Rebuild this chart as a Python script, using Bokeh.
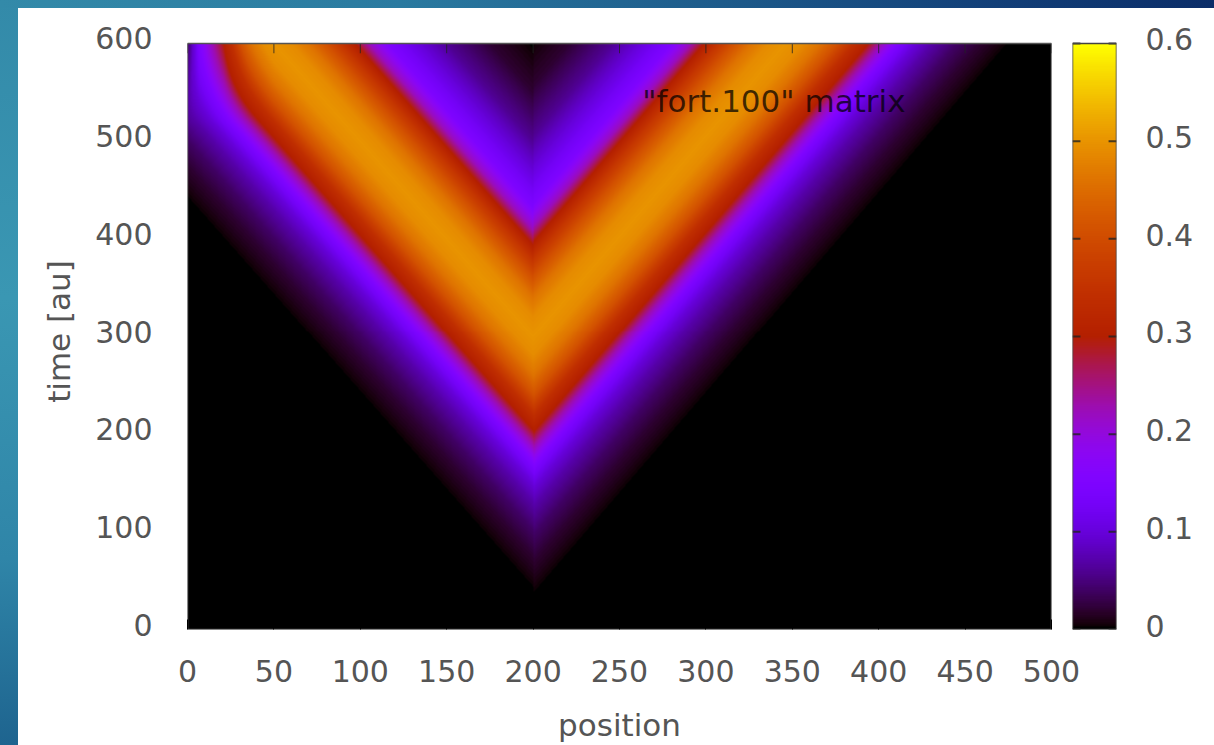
import numpy as np
from bokeh.plotting import figure
from bokeh.layouts import row
from bokeh.models import LinearColorMapper, LinearAxis, Range1d, FixedTicker
from bokeh.core.properties import value
from bokeh.embed import file_html
from bokeh.resources import INLINE

# Axis ticks
x_ticks = [0, 50, 100, 150, 200, 250, 300, 350, 400, 450, 500]
y_ticks = [0, 100, 200, 300, 400, 500, 600]
cb_ticks = [0, 0.1, 0.2, 0.3, 0.4, 0.5, 0.6]

# Pulse: value against horizontal distance from the crest
front_dist = [0, 10, 20, 30, 40, 48, 55, 65, 75, 85, 99, 112, 130]
front_val = [0.50, 0.49, 0.46, 0.41, 0.34, 0.30, 0.23, 0.15, 0.10, 0.07, 0.04, 0.02, 0.0]
back_dist = [0, 10, 20, 30, 40, 47, 55, 66, 80, 100, 125, 150]
back_val = [0.50, 0.49, 0.46, 0.41, 0.35, 0.30, 0.22, 0.15, 0.11, 0.06, 0.02, 0.0]
# How far the left front is held back by the wall at position 0, read at time 600
wall_x = [0, 3, 7, 14, 21, 35, 50]
wall_shift = [50, 32, 22, 20, 19, 8, 0]
source_x = 200      # where the two crests split
crest_t = 300       # time of the highest point
left_speed = 0.5    # position per time
right_speed = 0.487

FONT = "DejaVu Sans"
TEXT = "#555555"

nx, ny = 864, 587
xs = (np.arange(nx) + 0.5) * 500 / nx
ts = (np.arange(ny) + 0.5) * 600 / ny
X, T = np.meshgrid(xs, ts)
ramp = np.clip((T - 520) / 80, 0, 1) ** 1.5
Xe = np.where(X < source_x, X - np.interp(X, wall_x, wall_shift) * ramp, X)
speed = np.where(X < source_x, left_speed, right_speed)
d = np.abs(Xe - source_x) - speed * (T - crest_t)
field = np.where(d >= 0, np.interp(d, front_dist, front_val), np.interp(-d, back_dist, back_val))

def cube(x):
    r = np.sqrt(x)
    g = x ** 3
    b = np.clip(np.sin(2 * np.pi * x), 0, 1)
    return "#%02x%02x%02x" % (int(r * 255), int(g * 255), int(b * 255))

palette = [cube(i / 255) for i in range(256)]
mapper = LinearColorMapper(palette=palette, low=0, high=0.6)

# The frames reach 10px above the drawn area, so that the raised tick labels stay in range.
HEAD = 10
SPARE = 5
ppy = 600 / 587          # data units per pixel, main plot
cpy = 0.6 / 587          # data units per pixel, colour scale

# main plot: drawn area 187..1051 x 43..630 on the page
p = figure(width=1090, height=745, output_backend="svg", toolbar_location=None,
           x_range=Range1d(0, 500), y_range=Range1d(0, 600 + HEAD * ppy),
           x_axis_location=None, y_axis_location=None,
           min_border_left=187, min_border_right=39, min_border_top=43 - HEAD, min_border_bottom=115,
           border_fill_color=None, background_fill_color=None, outline_line_color=None)
p.grid.visible = False
p.image(image=[field], x=0, y=0, dw=500, dh=600, color_mapper=mapper)
p.segment(x0=x_ticks, x1=x_ticks, y0=[600] * len(x_ticks), y1=[590] * len(x_ticks),
          line_color="#222222", line_alpha=0.8, line_width=1)
p.line(x=[0, 500, 500, 0, 0], y=[0, 0, 600, 600, 0], line_color="#555555", line_width=1.5)
p.text(x=[415.5], y=[541], text=['"fort.100" matrix'], text_font=value(FONT), text_font_size="31px",
       text_align="right", text_baseline="middle", text_color="black", text_alpha=0.72)

p.extra_y_ranges = {"lab": Range1d(-SPARE * ppy, 600 + (HEAD - SPARE) * ppy)}

below = LinearAxis(ticker=FixedTicker(ticks=x_ticks), axis_label="position", axis_label_standoff=22,
                   major_tick_in=10, major_tick_out=0, minor_tick_in=0, minor_tick_out=0,
                   major_tick_line_color="black", axis_line_color=None, major_label_standoff=30,
                   major_label_text_font=FONT, major_label_text_font_size="30px", major_label_text_color=TEXT,
                   axis_label_text_font=FONT, axis_label_text_font_size="31px", axis_label_text_color=TEXT,
                   axis_label_text_font_style="normal")
p.add_layout(below, "below")
left = LinearAxis(y_range_name="lab", ticker=FixedTicker(ticks=y_ticks), axis_label="time [au]", axis_label_standoff=15,
                  major_tick_in=0, major_tick_out=0, minor_tick_in=0, minor_tick_out=0,
                  axis_line_color=None, major_label_standoff=35,
                  major_label_text_font=FONT, major_label_text_font_size="30px", major_label_text_color=TEXT,
                  axis_label_text_font=FONT, axis_label_text_font_size="31px", axis_label_text_color=TEXT,
                  axis_label_text_font_style="normal")
p.add_layout(left, "left")

# colour scale: drawn area 1072..1116 on the page
cb_values = np.linspace(0, 0.6, 587).reshape(-1, 1)
c = figure(width=154, height=745, output_backend="svg", toolbar_location=None,
           x_range=Range1d(0, 1), y_range=Range1d(0, 0.6 + HEAD * cpy),
           x_axis_location=None, y_axis_location=None,
           min_border_left=12, min_border_right=98, min_border_top=43 - HEAD, min_border_bottom=115,
           border_fill_color=None, background_fill_color=None, outline_line_color=None, margin=(0, 0, 0, -30))
c.grid.visible = False
c.image(image=[cb_values], x=0, y=0, dw=1, dh=0.6, color_mapper=mapper)
n = len(cb_ticks)
c.segment(x0=[0] * n, x1=[0.18] * n, y0=cb_ticks, y1=cb_ticks, line_color="#222222", line_alpha=0.8, line_width=2)
c.segment(x0=[0.82] * n, x1=[1] * n, y0=cb_ticks, y1=cb_ticks, line_color="#222222", line_alpha=0.8, line_width=2)
c.line(x=[0, 1, 1, 0, 0], y=[0, 0, 0.6, 0.6, 0], line_color="#444444", line_width=1.5)
c.extra_y_ranges = {"lab": Range1d(-4 * cpy, 0.6 + (HEAD - 4) * cpy)}
c.add_layout(LinearAxis(y_range_name="lab", ticker=FixedTicker(ticks=cb_ticks), major_tick_in=0, major_tick_out=0,
                        minor_tick_in=0, minor_tick_out=0, axis_line_color=None, major_label_standoff=29,
                        major_label_text_font=FONT, major_label_text_font_size="30px",
                        major_label_text_color=TEXT), "right")

page_style = {
    "background-color": "#ffffff",
    "background-image": ("linear-gradient(#ffffff,#ffffff),"
                         "linear-gradient(90deg,#338aa9 0%,#2a7aa0 33%,#123f78 82%,#0b2d68 100%),"
                         "linear-gradient(180deg,#338aa9 0%,#3a97b3 40%,#2f85a8 75%,#1e648f 100%)"),
    "background-size": "1196px 737px,100% 8px,18px 100%",
    "background-position": "18px 8px,0 0,0 0",
    "background-repeat": "no-repeat",
}
layout = row(p, c, width=1214, height=745, styles=page_style)
open("out.html", "w").write(file_html(layout, INLINE))
